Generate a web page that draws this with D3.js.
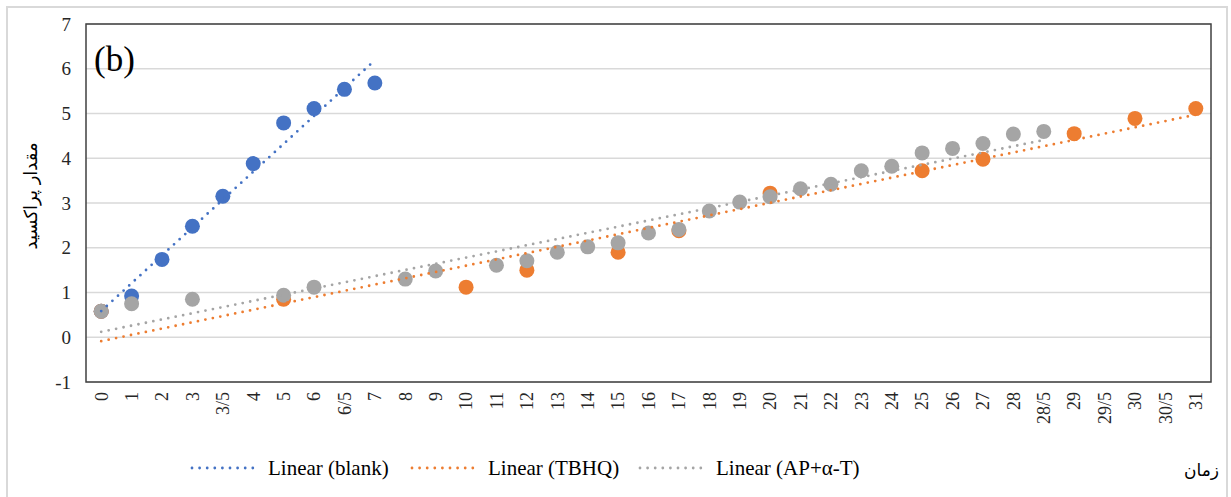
<!DOCTYPE html>
<html>
<head>
<meta charset="utf-8">
<script src="https://cdn.jsdelivr.net/npm/d3@7"></script>
<style>
  html, body { margin: 0; padding: 0; background: #fff; }
  svg { display: block; }
</style>
</head>
<body>
<svg id="chart" width="1231" height="497"></svg>
<script>
// Time categories (Persian decimal notation: 3/5 = 3.5)
const categories = ["0","1","2","3","3/5","4","5","6","6/5","7","8","9","10","11","12","13","14","15","16","17","18","19","20","21","22","23","24","25","26","27","28","28/5","29","29/5","30","30/5","31"];

// Peroxide value per sample: [time label, value]
const blankValues = [["0",0.58],["1",0.92],["2",1.74],["3",2.48],["3/5",3.15],["4",3.88],["5",4.79],["6",5.11],["6/5",5.54],["7",5.68]];
const tbhqValues = [["0",0.58],["5",0.85],["10",1.12],["12",1.50],["15",1.90],["17",2.38],["20",3.22],["25",3.72],["27",3.98],["29",4.55],["30",4.89],["31",5.11]];
const apValues = [["0",0.58],["1",0.75],["3",0.85],["5",0.94],["6",1.12],["8",1.30],["9",1.48],["11",1.61],["12",1.71],["13",1.90],["14",2.02],["15",2.11],["16",2.33],["17",2.41],["18",2.82],["19",3.02],["20",3.14],["21",3.32],["22",3.42],["23",3.72],["24",3.82],["25",4.12],["26",4.22],["27",4.33],["28",4.54],["28/5",4.60]];

const yTicks = [-1,0,1,2,3,4,5,6,7];

const series = [
  { name: "blank", legend: "Linear (blank)", color: "#4472C4", values: blankValues },
  { name: "tbhq", legend: "Linear (TBHQ)", color: "#ED7D31", values: tbhqValues },
  { name: "ap", legend: "Linear (AP+\u03B1-T)", color: "#A5A5A5", values: apValues }
];

const SERIF = "'Liberation Serif', 'Times New Roman', 'DejaVu Serif', serif";
const svg = d3.select("#chart");

// Outer chart border
svg.append("rect")
  .attr("x", 7).attr("y", 7).attr("width", 1220).attr("height", 500)
  .attr("fill", "#fff").attr("stroke", "#d9d9d9").attr("stroke-width", 2);

const plot = { left: 86, top: 24, right: 1211, bottom: 382 };

const x = d3.scaleBand().domain(categories).range([plot.left, plot.right]).padding(0);
const cx = c => x(c) + x.bandwidth() / 2;
const y = d3.scaleLinear().domain([-1, 7]).range([plot.bottom, plot.top]);

// Horizontal gridlines
svg.append("g").selectAll("line").data(yTicks).join("line")
  .attr("x1", plot.left).attr("x2", plot.right)
  .attr("y1", d => y(d)).attr("y2", d => y(d))
  .attr("stroke", "#d9d9d9").attr("stroke-width", 1.3);

// Y axis labels
const yAxis = d3.axisLeft(y).tickValues(yTicks).tickSize(0).tickPadding(0).tickFormat(d => String(d));
const yg = svg.append("g").attr("transform", `translate(${plot.left - 15},0)`).call(yAxis);
yg.select(".domain").remove();
yg.selectAll("text").style("font-family", SERIF).style("font-size", "19px").attr("fill", "#262626");

// X axis labels (rotated)
const xAxis = d3.axisBottom(x).tickSize(0).tickPadding(0);
const xg = svg.append("g").attr("transform", `translate(0,${plot.bottom + 10})`).call(xAxis);
xg.select(".domain").remove();
xg.selectAll("text")
  .style("font-family", SERIF).style("font-size", "18px")
  .attr("fill", "#262626")
  .attr("transform", "rotate(-90)")
  .attr("text-anchor", "end")
  .attr("x", 0).attr("y", 0).attr("dy", "0.35em");

// Markers
const markerLayer = svg.append("g");
series.forEach(s => {
  markerLayer.append("g").selectAll("circle").data(s.values).join("circle")
    .attr("cx", d => cx(d[0])).attr("cy", d => y(d[1])).attr("r", 7.5)
    .attr("fill", s.color);
});

// Linear trendlines fitted over category index
const dotStyle = sel => sel
  .attr("stroke-width", 2.8).attr("stroke-linecap", "round")
  .attr("stroke-dasharray", "0 7.6").attr("fill", "none");

series.forEach(s => {
  const pts = s.values.map(d => [categories.indexOf(d[0]), d[1]]);
  const mx = d3.mean(pts, p => p[0]), my = d3.mean(pts, p => p[1]);
  const sxy = d3.sum(pts, p => (p[0] - mx) * (p[1] - my));
  const sxx = d3.sum(pts, p => (p[0] - mx) ** 2);
  const slope = sxy / sxx, icpt = my - slope * mx;
  const i0 = d3.min(pts, p => p[0]), i1 = d3.max(pts, p => p[0]);
  svg.append("line")
    .attr("x1", cx(categories[i0])).attr("y1", y(icpt + slope * i0))
    .attr("x2", cx(categories[i1])).attr("y2", y(icpt + slope * i1))
    .attr("stroke", s.color).call(dotStyle);
});

// Plot area frame
svg.append("rect")
  .attr("x", plot.left).attr("y", plot.top)
  .attr("width", plot.right - plot.left).attr("height", plot.bottom - plot.top)
  .attr("fill", "none").attr("stroke", "#404040").attr("stroke-width", 1.5);

// Panel tag
svg.append("text").attr("x", 94).attr("y", 71)
  .style("font-family", SERIF).style("font-size", "35px").attr("fill", "#000").text("(b)");

// Y axis title
svg.append("text")
  .attr("transform", "translate(37,196) rotate(-90)")
  .attr("text-anchor", "middle")
  .style("font-family", "'DejaVu Sans', sans-serif")
  .style("font-size", "18px").attr("fill", "#000")
  .text("مقدار پراکسید");

// X axis title
svg.append("text")
  .attr("x", 1219).attr("y", 476).attr("text-anchor", "end")
  .style("font-family", "'DejaVu Sans', sans-serif")
  .style("font-size", "17px").attr("fill", "#000")
  .text("زمان");

// Legend
const legendX = [192, 412, 640];
const legend = svg.append("g");
series.forEach((s, i) => {
  const g = legend.append("g").attr("transform", `translate(${legendX[i]},468)`);
  g.append("line").attr("x1", 0).attr("x2", 66).attr("y1", 0).attr("y2", 0)
    .attr("stroke", s.color).call(dotStyle);
  g.append("text").attr("x", 76).attr("y", 7)
    .style("font-family", SERIF).style("font-size", "21px").attr("fill", "#000").text(s.legend);
});
</script>
</body>
</html>
